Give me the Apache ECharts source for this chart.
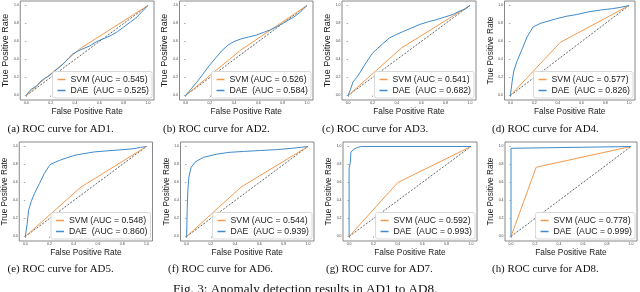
<!DOCTYPE html>
<html>
<head>
<meta charset="utf-8">
<script src="https://cdn.jsdelivr.net/npm/echarts@6/dist/echarts.min.js"></script>
<style>
html,body{margin:0;padding:0;background:#fff;}
#c{width:640px;height:292px;}
</style>
</head>
<body>
<div id="c"></div>
<script>
// ---------- data ----------
const panels = ['AD1', 'AD2', 'AD3', 'AD4', 'AD5', 'AD6', 'AD7', 'AD8'];
const captionLetters = ['a', 'b', 'c', 'd', 'e', 'f', 'g', 'h'];
const svmAUC = [0.545, 0.526, 0.541, 0.577, 0.548, 0.544, 0.592, 0.778];
const daeAUC = [0.525, 0.584, 0.682, 0.826, 0.860, 0.939, 0.993, 0.999];
const tickValues = [0, 0.2, 0.4, 0.6, 0.8, 1.0];
const diagonal = [[0, 0], [1, 1]];

// ROC points [FPR, TPR]
const svmAD1 = [[0, 0], [0.05, 0.06], [0.12, 0.15], [0.2, 0.24], [0.3, 0.35], [0.43, 0.51], [1, 1]];
const daeAD1 = [[0, 0], [0.02, 0.04], [0.04, 0.07], [0.08, 0.1], [0.12, 0.16], [0.15, 0.19], [0.19, 0.22], [0.23, 0.27], [0.27, 0.31], [0.31, 0.36], [0.35, 0.42], [0.38, 0.46], [0.42, 0.49], [0.45, 0.51], [0.52, 0.55], [0.58, 0.6], [0.65, 0.64], [0.7, 0.67], [0.75, 0.71], [0.8, 0.76], [0.86, 0.82], [0.9, 0.86], [0.95, 0.93], [1, 1]];
const svmAD2 = [[0, 0], [0.45, 0.5], [1, 1]];
const daeAD2 = [[0, 0], [0.05, 0.08], [0.1, 0.16], [0.15, 0.25], [0.2, 0.34], [0.25, 0.42], [0.3, 0.5], [0.35, 0.56], [0.4, 0.6], [0.46, 0.63], [0.52, 0.65], [0.58, 0.67], [0.64, 0.7], [0.7, 0.73], [0.76, 0.77], [0.8, 0.8], [0.85, 0.84], [0.89, 0.87], [0.94, 0.92], [0.97, 0.96], [1, 1]];
const svmAD3 = [[0, 0], [0.44, 0.53], [1, 1]];
const daeAD3 = [[0, 0], [0.02, 0.07], [0.04, 0.15], [0.07, 0.2], [0.1, 0.26], [0.15, 0.37], [0.2, 0.47], [0.24, 0.52], [0.28, 0.57], [0.34, 0.64], [0.4, 0.68], [0.45, 0.71], [0.52, 0.75], [0.59, 0.79], [0.66, 0.82], [0.72, 0.84], [0.79, 0.87], [0.86, 0.9], [0.92, 0.94], [0.96, 0.96], [1, 1]];
const svmAD4 = [[0, 0], [0.42, 0.59], [1, 1]];
const daeAD4 = [[0, 0], [0.014, 0.15], [0.028, 0.27], [0.055, 0.38], [0.097, 0.51], [0.14, 0.65], [0.19, 0.76], [0.25, 0.8], [0.3, 0.82], [0.38, 0.85], [0.47, 0.88], [0.56, 0.9], [0.66, 0.93], [0.76, 0.95], [0.86, 0.965], [0.93, 0.98], [1, 1]];
const svmAD5 = [[0, 0], [0.46, 0.55], [1, 1]];
const daeAD5 = [[0, 0], [0.016, 0.15], [0.027, 0.29], [0.049, 0.39], [0.076, 0.48], [0.117, 0.59], [0.157, 0.7], [0.2, 0.79], [0.22, 0.81], [0.29, 0.85], [0.4, 0.9], [0.48, 0.92], [0.57, 0.94], [0.66, 0.95], [0.76, 0.96], [0.89, 0.975], [0.95, 0.99], [1, 1]];
const svmAD6 = [[0, 0], [0.45, 0.55], [1, 1]];
const daeAD6 = [[0, 0], [0.003, 0.15], [0.005, 0.3], [0.011, 0.52], [0.019, 0.66], [0.038, 0.77], [0.073, 0.83], [0.14, 0.88], [0.25, 0.915], [0.35, 0.935], [0.47, 0.945], [0.6, 0.955], [0.74, 0.965], [0.87, 0.98], [1, 1]];
const svmAD7 = [[0, 0], [0.4, 0.6], [1, 1]];
const daeAD7 = [[0, 0], [0, 0.76], [0.01, 0.77], [0.01, 0.82], [0.015, 0.94], [0.04, 0.97], [0.07, 0.99], [0.1, 1], [1, 1]];
const svmAD8 = [[0, 0], [0.21, 0.77], [1, 1]];
const daeAD8 = [[0, 0], [0, 0.98], [0.01, 1], [1, 1]];

const svmCurves = [svmAD1, svmAD2, svmAD3, svmAD4, svmAD5, svmAD6, svmAD7, svmAD8];
const daeCurves = [daeAD1, daeAD2, daeAD3, daeAD4, daeAD5, daeAD6, daeAD7, daeAD8];

// ---------- layout (pixels: left, top, right, bottom of each axes frame) ----------
const frames = [
  [19, 1, 154, 100], [179.5, 1, 313, 100], [342, 1, 476, 100], [504.5, 1, 635, 100],
  [18, 142, 152.5, 241], [180.5, 142, 314, 241], [343, 142, 477, 241], [505, 142, 637, 241]
];
const yNameSize = [9, 9, 9, 8.3, 8.3, 8.3, 8.3, 8.3];
const captionPos = [[7.5, 129.5], [163, 129.5], [322, 129.5], [492, 129.5], [7.5, 269.5], [168, 269.5], [326, 269.5], [492, 269.5]];

const W = 640, H = 292;
const SVM_COLOR = '#f59a4c';
const DAE_COLOR = '#3f8bcc';
const fmt = v => v.toFixed(3);

const grid = [], xAxis = [], yAxis = [], series = [], legend = [], graphic = [];

panels.forEach((p, i) => {
  const [l, t, r, b] = frames[i];
  grid.push({
    left: l, top: t, width: r - l, height: b - t,
    show: true, borderColor: '#6a6a6a', borderWidth: 0.8, backgroundColor: '#fff'
  });
  const common = {
    type: 'value', min: -0.05, max: 1.05, gridIndex: i,
    splitLine: { show: false },
    axisLine: { show: false },
    axisTick: { show: true, length: 1.5, customValues: tickValues, lineStyle: { color: '#555', width: 0.5 } },
    axisLabel: { customValues: tickValues, fontSize: 3.5, color: '#444', margin: 1.5, formatter: v => v.toFixed(1), fontFamily: 'Liberation Sans' },
    nameLocation: 'middle'
  };
  xAxis.push(Object.assign({}, common, {
    name: 'False Positive Rate', nameGap: 7.5,
    nameTextStyle: { fontFamily: 'Liberation Sans', color: '#1a1a1a', fontSize: 8.3 }
  }));
  yAxis.push(Object.assign({}, common, {
    name: 'True Positive Rate', nameGap: 9.5, nameRotate: 90,
    nameTextStyle: { fontFamily: 'Liberation Sans', color: '#1a1a1a', fontSize: yNameSize[i] }
  }));
  const svmName = 'SVM (AUC = ' + fmt(svmAUC[i]) + ')';
  const daeName = 'DAE  (AUC = ' + fmt(daeAUC[i]) + ')';
  series.push({
    type: 'line', name: 'diag' + i, xAxisIndex: i, yAxisIndex: i, data: diagonal,
    symbol: 'none', lineStyle: { color: '#222', width: 0.7, type: [2, 1.5] }, silent: true
  });
  series.push({
    type: 'line', name: svmName, xAxisIndex: i, yAxisIndex: i, data: svmCurves[i],
    symbol: 'none', color: SVM_COLOR, lineStyle: { color: SVM_COLOR, width: 1 }
  });
  series.push({
    type: 'line', name: daeName, xAxisIndex: i, yAxisIndex: i, data: daeCurves[i],
    symbol: 'none', color: DAE_COLOR, lineStyle: { color: DAE_COLOR, width: 1 }
  });
  legend.push({
    data: [svmName, daeName],
    orient: 'vertical', align: 'left',
    right: W - r + 2, bottom: H - b + 2,
    icon: 'rect', itemWidth: 8, itemHeight: 1.5, itemGap: 1,
    padding: [3, 3, 2.5, 5],
    backgroundColor: '#fff', borderColor: '#cfcfcf', borderWidth: 0.8, borderRadius: 2,
    textStyle: { fontFamily: 'Liberation Sans', fontSize: 8.7, color: '#1a1a1a', lineHeight: 10 },
    selectedMode: false
  });
  graphic.push({
    type: 'text', x: captionPos[i][0], y: captionPos[i][1],
    style: { text: '(' + captionLetters[i] + ') ROC curve for ' + p + '.', font: '10.9px "Liberation Serif"', fill: '#111', verticalAlign: 'middle', align: 'left' }
  });
});

graphic.push({
  type: 'text', x: 173, y: 289.5,
  style: { text: 'Fig. 3: Anomaly detection results in AD1 to AD8.', font: '13.2px "Liberation Serif"', fill: '#111', verticalAlign: 'middle', align: 'left' }
});

const chart = echarts.init(document.getElementById('c'), null, { renderer: 'canvas' });
chart.setOption({
  animation: false,
  backgroundColor: '#fff',
  grid, xAxis, yAxis, series, legend, graphic
});
</script>
</body>
</html>
